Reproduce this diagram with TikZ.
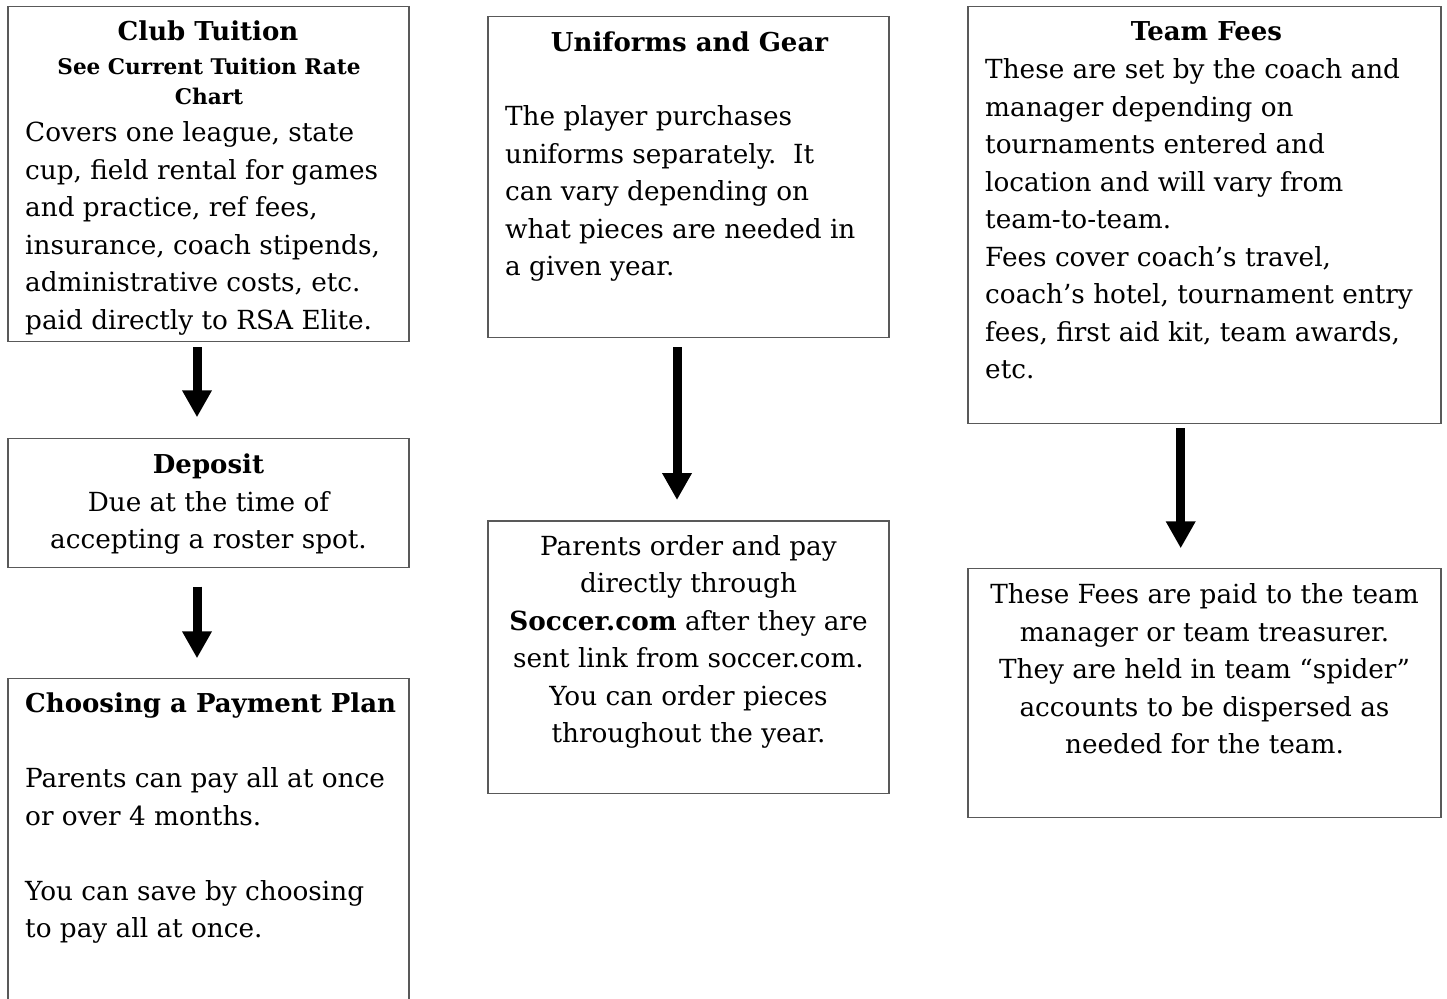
\documentclass[tikz,border=0pt]{standalone}
\usepackage{fontspec}
\setmainfont{DejaVu Serif}
\usetikzlibrary{arrows.meta}
\newcommand{\fst}{\rule{0pt}{28pt}}
\begin{document}
\begin{tikzpicture}[x=1pt,y=-1pt,
  box/.style={draw=black!65,line width=1.4pt,rectangle,inner sep=0pt,outer sep=0pt,anchor=north west},
  body/.style={inner sep=0pt,anchor=north west,align=left,font=\fontsize{26.3}{37.5}\selectfont},
  cbody/.style={inner sep=0pt,anchor=north,align=center,font=\fontsize{26.3}{37.5}\selectfont},
  ttl/.style={inner sep=0pt,anchor=base,font=\fontsize{26}{30}\selectfont\bfseries},
  sub/.style={inner sep=0pt,anchor=north,align=center,font=\fontsize{21.6}{30}\selectfont\bfseries},
  bigarrow/.style={line width=9pt,black,-{Triangle[width=28pt,length=27pt]}}
]
\useasboundingbox (0,0) rectangle (1447,998);
\fill[white] (0,0) rectangle (1447,998);
% boxes
\node[box,minimum width=401pt,minimum height=335pt] (b1) at (8,6.7) {};
\node[box,minimum width=401pt,minimum height=129pt] (b2) at (8,438.3) {};
\node[box,minimum width=401pt,minimum height=340pt] (b3) at (8,678.5) {};
\node[box,minimum width=401pt,minimum height=320.6pt] (b4) at (488,16.7) {};
\node[box,minimum width=401pt,minimum height=272.5pt] (b5) at (488,521) {};
\node[box,minimum width=473pt,minimum height=416.6pt] (b6) at (968,6.7) {};
\node[box,minimum width=473pt,minimum height=249pt] (b7) at (968,568.3) {};
% box 1
\node[ttl] (t1) at (208,40.7) {Club Tuition};
\node[sub] (s1) at (209,74-28) {\fst See Current Tuition Rate\\Chart};
\node[body] (x1) at (25,141.7-28) {\fst Covers one league, state\\cup, field rental for games\\and practice, ref fees,\\insurance, coach stipends,\\administrative costs, etc.\\paid directly to RSA Elite.};
% box 2
\node[ttl] (t2) at (208.5,473.3) {Deposit};
\node[cbody] (x2) at (208.5,511-28) {\fst Due at the time of\\accepting a roster spot.};
% box 3
\node[ttl,anchor=base west] (t3) at (25,712.7) {Choosing a Payment Plan};
\node[body] (x3) at (25,787.7-28) {\fst Parents can pay all at once\\or over 4 months.\\[37.5pt]You can save by choosing\\to pay all at once.};
% box 4
\node[ttl] (t4) at (689.5,51.7) {Uniforms and Gear};
\node[body] (x4) at (505,125.7-28) {\fst The player purchases\\uniforms separately.\ \ It\\can vary depending on\\what pieces are needed in\\a given year.};
% box 5
\node[cbody] (x5) at (688.5,555-28) {\fst Parents order and pay\\directly through\\\textbf{Soccer.com} after they are\\sent link from soccer.com.\\You can order pieces\\throughout the year.};
% box 6
\node[ttl] (t6) at (1206.5,41) {Team Fees};
\node[body] (x6) at (985,78.3-28) {\fst These are set by the coach and\\manager depending on\\tournaments entered and\\location and will vary from\\team-to-team.\\Fees cover coach’s travel,\\coach’s hotel, tournament entry\\fees, first aid kit, team awards,\\etc.};
% box 7
\node[cbody] (x7) at (1204.5,603.3-28) {\fst These Fees are paid to the team\\manager or team treasurer.\\They are held in team “spider”\\accounts to be dispersed as\\needed for the team.};
% arrows
\draw[bigarrow,shorten <=5.3pt,shorten >=21pt] ([xshift=-11.5pt]b1.south) -- ([xshift=-11.5pt]b2.north);
\draw[bigarrow,shorten <=19.4pt,shorten >=20.2pt] ([xshift=-11.5pt]b2.south) -- ([xshift=-11.5pt]b3.north);
\draw[bigarrow,shorten <=9.7pt,shorten >=21pt] ([xshift=-11.5pt]b4.south) -- ([xshift=-11.5pt]b5.north);
\draw[bigarrow,shorten <=4.7pt,shorten >=20pt] ([xshift=-23.8pt]b6.south) -- ([xshift=-23.8pt]b7.north);
\end{tikzpicture}
\end{document}
